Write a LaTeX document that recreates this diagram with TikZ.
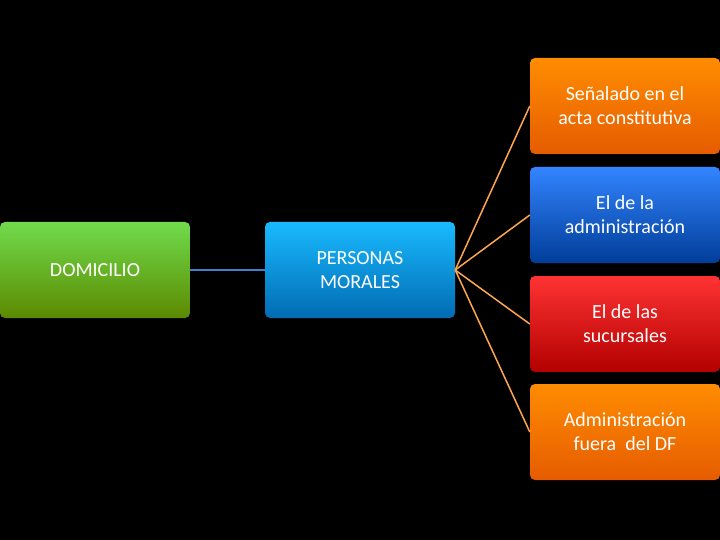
\documentclass[tikz,border=0pt]{standalone}
\usepackage{fontspec}
\setmainfont{Carlito}
\begin{document}
\begin{tikzpicture}[x=1pt,y=-1pt,
  box/.style={rounded corners=5pt,minimum width=190pt,minimum height=96pt,text=white,font=\fontsize{20}{24}\selectfont,align=center,inner sep=2pt},
  conn/.style={draw=orange!70!white,line width=1.5pt}]
\fill[black] (0,0) rectangle (720,540);
\node[box,top color=green!60!olive!70!white,bottom color=olive!80!green!90!black] (dom) at (95,270) {DOMICILIO};
\node[box,top color=cyan!70!blue!90!white,bottom color=cyan!60!blue!70!black] (pm) at (360,270) {PERSONAS\\MORALES};
\node[box,top color=orange!90!yellow,bottom color=orange!80!red!90!black] (a) at (625,106) {Señalado en el\\acta constitutiva};
\node[box,top color=blue!60!cyan!80!white,bottom color=blue!60!cyan!60!black] (b) at (625,215) {El de la\\administración};
\node[box,top color=red!80!white,bottom color=red!70!black] (c) at (625,324) {El de las\\sucursales};
\node[box,top color=orange!90!yellow,bottom color=orange!80!red!90!black] (d) at (625,432) {Administración\\fuera\ \ del DF};
\draw[draw=cyan!50!blue!80!white,line width=2.5pt] (dom.east) -- (pm.west);
\foreach \t in {a,b,c,d} \draw[conn] (pm.east) -- (\t.west);
\end{tikzpicture}
\end{document}
